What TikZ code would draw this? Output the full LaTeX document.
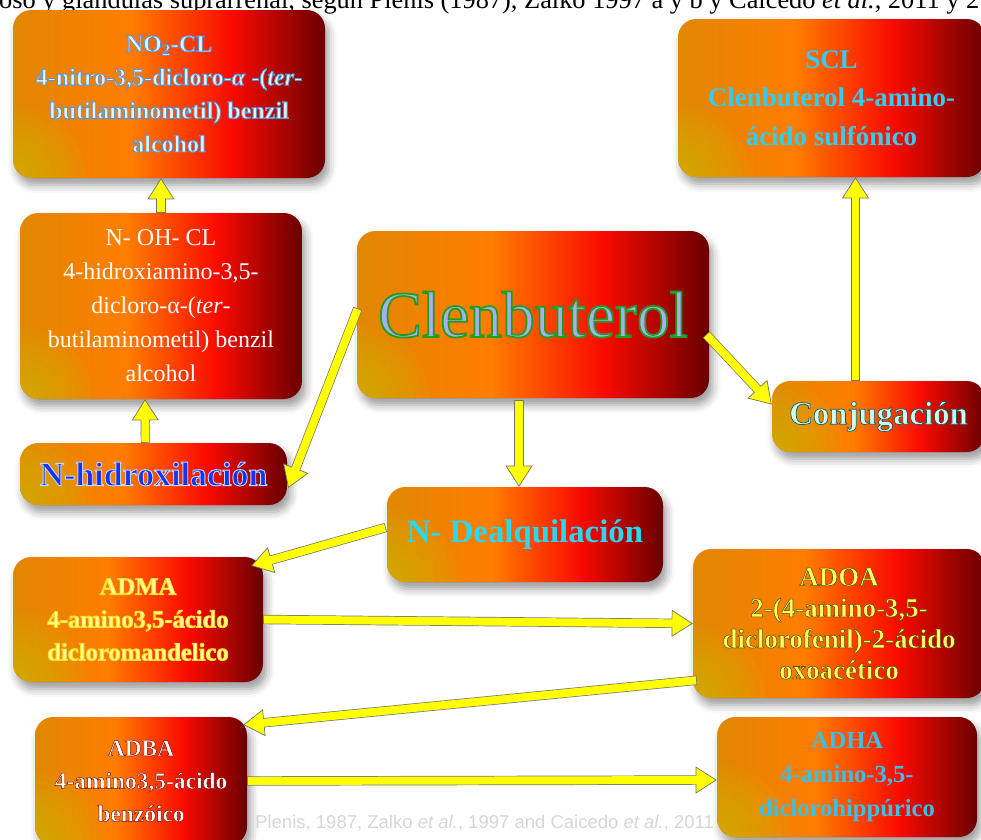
\documentclass[tikz,border=0pt]{standalone}
\usepackage{fontspec}
\setmainfont{Liberation Serif}
\newfontfamily\markfont{Liberation Sans}
\usetikzlibrary{arrows.meta,calc,shadows.blur}
\definecolor{boxleft}{RGB}{225,135,0}
\definecolor{boxmid}{RGB}{255,125,0}
\definecolor{boxred}{RGB}{250,10,0}
\definecolor{boxdark}{RGB}{105,0,0}
\definecolor{boxtint}{RGB}{205,190,0}
\definecolor{arrowyellow}{RGB}{255,255,0}
\definecolor{no2txt}{RGB}{225,245,255}
\definecolor{hidtxt}{RGB}{25,50,240}
\definecolor{clentxt}{RGB}{168,174,242}
\definecolor{scltxt}{RGB}{50,205,240}
\definecolor{conjtxt}{RGB}{205,255,240}
\definecolor{dealtxt}{RGB}{40,215,240}
\definecolor{admatxt}{RGB}{255,255,150}
\definecolor{adoatxt}{RGB}{255,255,100}
\definecolor{adhatxt}{RGB}{60,190,230}
\pgfdeclarehorizontalshading{boxshade}{100bp}{color(0bp)=(boxleft); color(25bp)=(boxleft); color(44bp)=(boxmid); color(60bp)=(boxred); color(75bp)=(boxdark); color(100bp)=(boxdark)}
% outlined letters: stroke colour and width are set per node
\def\olrgb{0 0 0}\def\olw{1}
\newcommand{\olt}[1]{\special{pdf:literal direct \olrgb\space RG \olw\space w 2 Tr}#1\special{pdf:literal direct 0 Tr}}
\newcommand{\fatlink}[2]{\draw[fatedge] #1 -- #2; \draw[fatcore] #1 -- #2;}
\tikzset{
  box/.style     = {shade, shading=boxshade, rounded corners=0.55cm, align=center, inner sep=0pt,
                    blur shadow={shadow xshift=3pt, shadow yshift=-6pt, shadow blur radius=7pt},
                    path picture={\foreach \r in {1,...,9}
                      \fill[boxtint, opacity=0.1] (path picture bounding box.south west) circle (\r*0.24cm);}},
  sz/.style 2 args = {minimum width=#1*0.03cm, minimum height=#2*0.03cm},
  fatedge/.style = {draw=black!55, line width=8pt,
                    -{Triangle[length=18pt, width=23pt, fill=arrowyellow, line width=0.6pt]}},
  fatcore/.style = {draw=arrowyellow, line width=6.8pt, shorten >=16pt, shorten <=0.6pt},
}

\begin{document}
\begin{tikzpicture}[x=0.03cm, y=-0.03cm]
\useasboundingbox (0,0) rectangle (981,839);
\clip (0,0) rectangle (981,839);
% ---- caption line cut by the top edge ----
\node[anchor=base west, inner sep=0pt, font=\fontsize{22.5}{26}\selectfont] (cite) at (-1,8.5)
  {oso y glándulas suprarrenal, según Plenis (1987), Zalko 1997 a y b y Caicedo \textit{et al.}, 2011 y 2};
% ---- boxes ----
\node[box, sz={312}{168}, text=no2txt,
  font={\bfseries\fontsize{20.5}{28.5}\selectfont\def\olrgb{0.35 0.59 0.84}\def\olw{0.7}}] (no2) at (169,94)
  {\olt{NO\textsubscript{2}-CL}\\ \olt{4-nitro-3,5-dicloro-\textit{α} -(\textit{ter}-}\\
   \olt{butilaminometil) benzil}\\ \olt{alcohol}};
\node[box, sz={282}{186}, text=white, font={\fontsize{20.5}{29}\selectfont}] (noh) at (161,306)
  {N- OH- CL\\ 4-hidroxiamino-3,5-\\ dicloro-α-(\textit{ter}-\\ butilaminometil) benzil\\ alcohol};
\node[box, sz={267}{62}, text=hidtxt,
  font={\bfseries\fontsize{29}{32}\selectfont\def\olrgb{0.75 0.84 1}\def\olw{0.8}}] (nhid) at (153.5,474)
  {\olt{N-hidroxilación}};
\node[box, sz={352}{167}, text=clentxt,
  font={\fontsize{56}{60}\selectfont\def\olrgb{0.12 0.62 0.12}\def\olw{1.5}}] (clen) at (533,314.5)
  {\olt{Clenbuterol}};
\node[box, sz={307}{158}, text=scltxt, font={\bfseries\fontsize{23}{33}\selectfont}] (scl) at (831.5,98)
  {SCL\\ Clenbuterol 4-amino-\\ ácido sulfónico};
\node[box, sz={213}{71}, text=conjtxt,
  font={\bfseries\fontsize{28}{30}\selectfont\def\olrgb{0.12 0.35 0.35}\def\olw{0.6}}] (conj) at (878.5,416.5)
  {\olt{Conjugación}};
\node[box, sz={276}{95}, text=dealtxt, font={\bfseries\fontsize{28}{30}\selectfont}] (ndeal) at (525,534.5)
  {N- Dealquilación};
\node[box, sz={250}{125}, text=admatxt,
  font={\bfseries\fontsize{21}{28}\selectfont\def\olrgb{0.98 0.88 0.16}\def\olw{0.8}}] (adma) at (138,619.5)
  {\olt{ADMA}\\ \olt{4-amino3,5-ácido}\\ \olt{dicloromandelico}};
\node[box, sz={292}{149}, text=adoatxt,
  font={\bfseries\fontsize{23}{26.5}\selectfont\def\olrgb{0.35 0.3 0}\def\olw{0.45}}] (adoa) at (839,623.5)
  {\olt{ADOA}\\ \olt{2-(4-amino-3,5-}\\ \olt{diclorofenil)-2-ácido}\\ \olt{oxoacético}};
\node[box, sz={212}{128}, text=white,
  font={\bfseries\fontsize{20}{28}\selectfont\def\olrgb{0.47 0 0}\def\olw{0.35}}] (adba) at (141,781)
  {\olt{ADBA}\\ \olt{4-amino3,5-ácido}\\ \olt{benzóico}};
\node[box, sz={260}{120}, text=adhatxt, font={\bfseries\fontsize{21}{29}\selectfont}] (adha) at (847,777)
  {ADHA\\ 4-amino-3,5-\\ diclorohippúrico};
% ---- faint source line ----
\node[anchor=base west, inner sep=0pt, text=black!16, font=\markfont\fontsize{15.8}{19}\selectfont] (mark) at (255,828)
  {Plenis, 1987, Zalko \textit{et al.}, 1997 and Caicedo \textit{et al.}, 2011};
% ---- yellow arrows ----
\fatlink{(noh.north)}{(no2.south -| noh.north)}
\fatlink{($(nhid.north)+(-8,0)$)}{($(noh.south)+(-16,0)$)}
\fatlink{($(clen.west)+(1,-6)$)}{($(nhid.east)+(1,14)$)}
\fatlink{($(clen.south)+(-14,2)$)}{($(ndeal.north)+(-6,0)$)}
\fatlink{($(clen.east)+(-3,20)$)}{($(conj.west)+(0,-12)$)}
\fatlink{($(conj.north)+(-23,0)$)}{($(scl.south)+(24,0)$)}
\fatlink{($(ndeal.west)+(-1,-7)$)}{($(adma.north east)+(-12,9)$)}
\fatlink{(adma.east)}{(adoa.west)}
\fatlink{($(adoa.south west)+(4,-18)$)}{($(adba.north east)+(-4,8)$)}
\fatlink{(adba.east)}{($(adha.west)+(0,3)$)}
\end{tikzpicture}
\end{document}
